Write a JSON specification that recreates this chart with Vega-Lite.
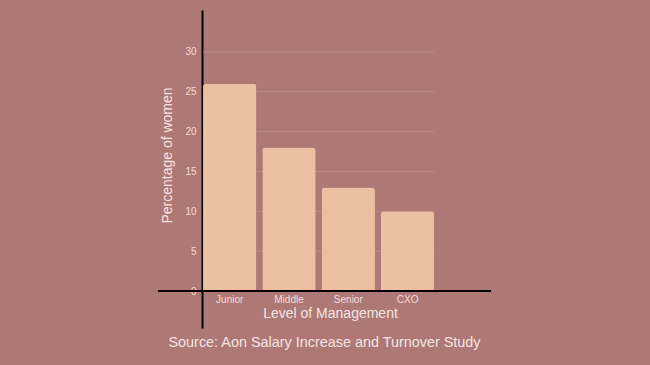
{
  "$schema": "https://vega.github.io/schema/vega-lite/v6.json",
  "width": 333,
  "height": 318,
  "autosize": "none",
  "padding": {"left": 158, "top": 10, "right": 159, "bottom": 37},
  "background": "#ad7876",
  "config": {
    "view": {"stroke": null},
    "font": "Liberation Sans"
  },
  "title": {
    "text": "Source: Aon Salary Increase and Turnover Study",
    "orient": "bottom",
    "anchor": "middle",
    "fontSize": 14.4,
    "fontWeight": "normal",
    "color": "#f6e4e2",
    "offset": 8
  },
  "datasets": {
    "bars": [
      {"level": "Junior", "pct": 26},
      {"level": "Middle", "pct": 18},
      {"level": "Senior", "pct": 13},
      {"level": "CXO", "pct": 10}
    ],
    "grid": [
      {"g": 5}, {"g": 10}, {"g": 15}, {"g": 20}, {"g": 25}, {"g": 30}
    ],
    "zero": [{"z": 0}]
  },
  "layer": [
    {
      "data": {"name": "grid"},
      "mark": {"type": "rule", "color": "#bd8a88", "strokeWidth": 1},
      "encoding": {
        "y": {"field": "g", "type": "quantitative"},
        "x": {"datum": "Junior", "bandPosition": 0},
        "x2": {"datum": "CXO", "bandPosition": 1}
      }
    },
    {
      "data": {"name": "bars"},
      "mark": {"type": "bar", "color": "#ecbfa1", "cornerRadiusTopLeft": 3, "cornerRadiusTopRight": 3},
      "encoding": {
        "x": {
          "field": "level",
          "type": "nominal",
          "sort": ["Junior", "Middle", "Senior", "CXO"],
          "scale": {"paddingInner": 0.1, "paddingOuter": 0.858, "align": 0.4425},
          "axis": {
            "title": "Level of Management",
            "titleFontSize": 14,
            "titleFontWeight": "normal",
            "titleColor": "#f6e4e2",
            "titlePadding": 2,
            "titleX": 172,
            "labelAngle": 0,
            "labelAlign": "center",
            "labelFontSize": 10,
            "labelColor": "#f3dcda",
            "labelPadding": 8,
            "ticks": false,
            "domain": false,
            "offset": -37
          }
        },
        "y": {
          "field": "pct",
          "type": "quantitative",
          "scale": {"domain": [-4.64, 35.26], "nice": false, "zero": false},
          "axis": {
            "title": "Percentage of women",
            "titleFontSize": 14,
            "titleFontWeight": "normal",
            "titleColor": "#f6e4e2",
            "titleY": 145,
            "values": [0, 5, 10, 15, 20, 25, 30],
            "labelFontSize": 10,
            "labelColor": "#f3dcda",
            "labelPadding": 6,
            "ticks": false,
            "grid": false,
            "domain": true,
            "domainColor": "#000000",
            "domainWidth": 2,
            "offset": -44,
            "titlePadding": 10
          }
        }
      }
    },
    {
      "data": {"name": "zero"},
      "mark": {"type": "rule", "color": "#000000", "strokeWidth": 2},
      "encoding": {
        "y": {"field": "z", "type": "quantitative"}
      }
    }
  ]
}
